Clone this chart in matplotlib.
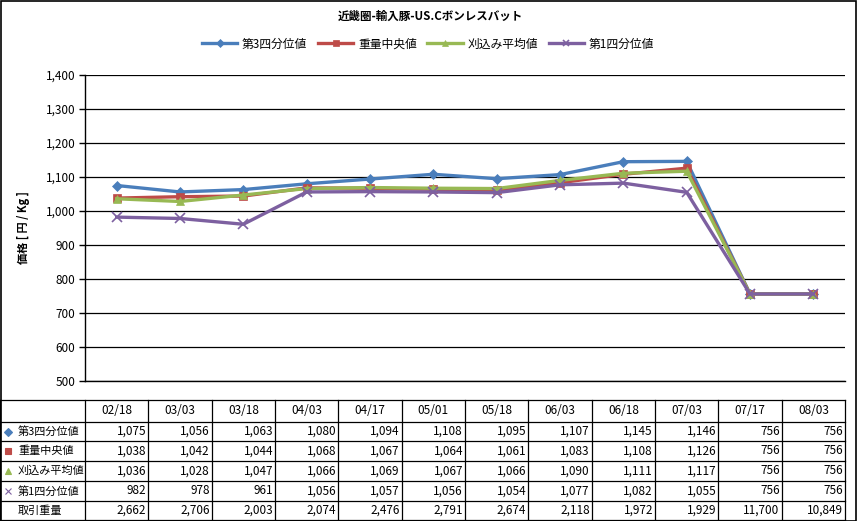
import matplotlib
matplotlib.use("Agg")
import matplotlib.pyplot as plt
from matplotlib.patches import Rectangle

plt.rcParams['font.family'] = ['Noto Sans CJK JP', 'DejaVu Sans']

# data
dates = ["02/18", "03/03", "03/18", "04/03", "04/17", "05/01",
         "05/18", "06/03", "06/18", "07/03", "07/17", "08/03"]
q3 = [1075, 1056, 1063, 1080, 1094, 1108, 1095, 1107, 1145, 1146, 756, 756]
median_w = [1038, 1042, 1044, 1068, 1067, 1064, 1061, 1083, 1108, 1126, 756, 756]
trim_mean = [1036, 1028, 1047, 1066, 1069, 1067, 1066, 1090, 1111, 1117, 756, 756]
q1 = [982, 978, 961, 1056, 1057, 1056, 1054, 1077, 1082, 1055, 756, 756]
volume = [2662, 2706, 2003, 2074, 2476, 2791, 2674, 2118, 1972, 1929, 11700, 10849]

names = ["第3四分位値", "重量中央値", "刈込み平均値", "第1四分位値"]
colors = ["#4A7EBB", "#BE4B48", "#98B954", "#7D60A0"]
markers = ["D", "s", "^", "x"]
series = [q3, median_w, trim_mean, q1]

W, H = 857, 521
fig = plt.figure(figsize=(W / 100, H / 100), dpi=100)

# plot area in pixels: x 85..845, y 75..381
ax = fig.add_axes([85 / W, 1 - 381 / H, 760 / W, 306 / H])
xs = list(range(len(dates)))
for vals, name, col, mk in zip(series, names, colors, markers):
    ms = 6.5 if mk == "x" else 5.5
    ax.plot(xs, vals, color=col, lw=2.4, marker=mk, ms=ms, mew=1.2 if mk == "x" else 0.5,
            mec=col, mfc=col, label=name, zorder=3)

ax.set_xlim(-0.5, len(dates) - 0.5)
ax.set_ylim(500, 1400)
ax.set_yticks(range(500, 1401, 100))
ax.set_yticklabels([f"{v:,}" for v in range(500, 1401, 100)], fontsize=8.5)
ax.tick_params(axis="y", length=4, width=1, pad=3, color="black")
ax.set_xticks([])
ax.grid(axis="y", color="black", lw=0.9)
ax.set_axisbelow(True)
for s in ["top", "right"]:
    ax.spines[s].set_visible(False)
ax.spines["left"].set_linewidth(1)
ax.spines["bottom"].set_linewidth(1)
ax.set_ylabel("価格 [ 円 / Kg ]", fontsize=8, fontweight="bold", labelpad=11)

fig.text(430 / W, 1 - 16 / H, "近畿圏-輸入豚-US.Cボンレスバット", ha="center", va="center",
         fontsize=8.3, fontweight="bold")
fig.legend(loc="center", bbox_to_anchor=(428 / W, 1 - 44 / H), ncol=4, frameon=False,
           fontsize=8.5, handlelength=3.0, columnspacing=0.9, handletextpad=0.4,
           markerscale=0.7)

# data table, drawn in pixel coordinates
tab = fig.add_axes([0, 0, 1, 1])
tab.set_xlim(0, W)
tab.set_ylim(H, 0)
tab.axis("off")
col_edges = [0] + [85 + 760 / 12 * i for i in range(13)]
row_edges = [400, 422, 441, 461, 481, 501, 520]
for y in row_edges:
    tab.plot([0, col_edges[-1]], [y, y], color="black", lw=0.9)
for x in col_edges:
    tab.plot([x, x], [row_edges[0], row_edges[-1]], color="black", lw=0.9)

for i, d in enumerate(dates):
    cx = (col_edges[i + 1] + col_edges[i + 2]) / 2
    tab.text(cx, (row_edges[0] + row_edges[1]) / 2, d, ha="center", va="center", fontsize=8.5)

rows = series + [volume]
row_names = names + ["取引重量"]
for r, (vals, rn) in enumerate(zip(rows, row_names)):
    yc = (row_edges[r + 1] + row_edges[r + 2]) / 2
    tab.text(18, yc, rn, ha="left", va="center", fontsize=8)
    if r < 4:
        ms = 5 if markers[r] == "x" else 4.5
        tab.plot([8], [yc], marker=markers[r], color=colors[r], ms=ms, mew=0.8, ls="none")
    for i, v in enumerate(vals):
        tab.text(col_edges[i + 2] - 2, yc, f"{v:,}", ha="right", va="center", fontsize=8.5)

tab.add_patch(Rectangle((0.5, 0.5), W - 1, H - 1, fill=False, ec="black", lw=1.2))

fig.savefig("out.png", dpi=100)
